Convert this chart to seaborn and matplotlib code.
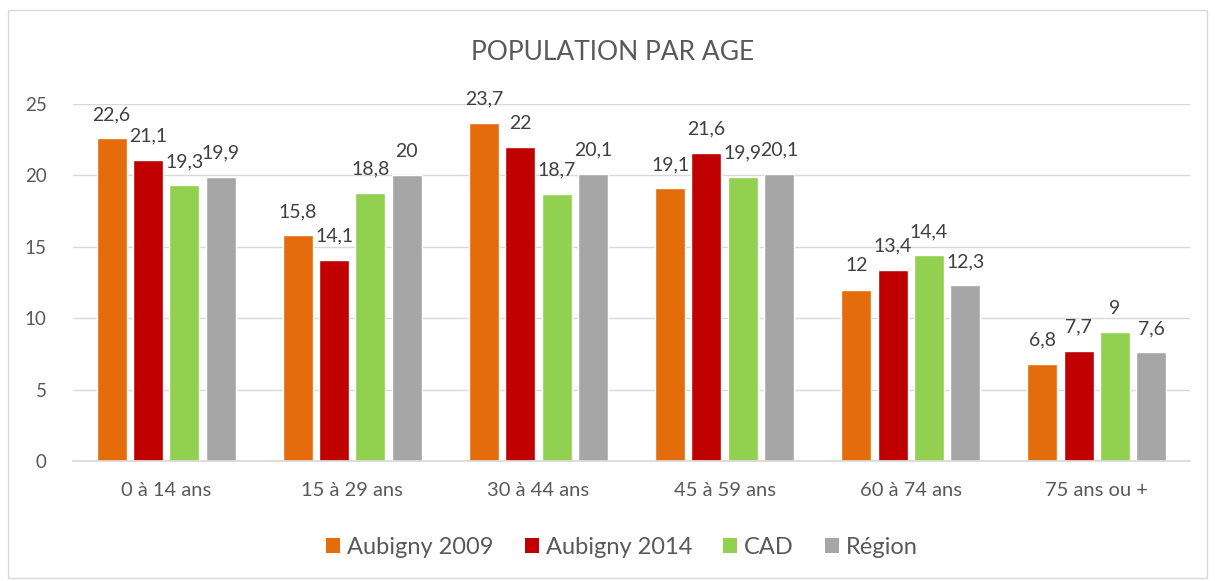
import matplotlib
matplotlib.use("Agg")
import matplotlib.pyplot as plt
import seaborn as sns
import pandas as pd
from matplotlib.patches import Rectangle, Patch

categories = ["0 à 14 ans", "15 à 29 ans", "30 à 44 ans", "45 à 59 ans", "60 à 74 ans", "75 ans ou +"]
series_names = ["Aubigny 2009", "Aubigny 2014", "CAD", "Région"]
aubigny_2009 = [22.6, 15.8, 23.7, 19.1, 12.0, 6.8]
aubigny_2014 = [21.1, 14.1, 22.0, 21.6, 13.4, 7.7]
cad = [19.3, 18.8, 18.7, 19.9, 14.4, 9.0]
region = [19.9, 20.0, 20.1, 20.1, 12.3, 7.6]
colors = ["#E46C0A", "#C00000", "#92D050", "#A6A6A6"]
yticks = [0, 5, 10, 15, 20, 25]

rows = []
for name, vals in zip(series_names, [aubigny_2009, aubigny_2014, cad, region]):
    for c, v in zip(categories, vals):
        rows.append({"cat": c, "serie": name, "val": v})
df = pd.DataFrame(rows)

sns.set_theme(style="white")
plt.rcParams["font.family"] = ["Lato", "DejaVu Sans"]

fig = plt.figure(figsize=(12.15, 5.81), dpi=100)
ax = fig.add_axes([73/1215, 1-461/581, (1190-73)/1215, (461-104)/581])

sns.barplot(data=df, x="cat", y="val", hue="serie", order=categories,
            hue_order=series_names, palette=colors, width=0.78, gap=0.175,
            saturation=1, ax=ax, legend=False, errorbar=None)

ax.set_ylim(0, 25)
ax.set_yticks(yticks)
ax.set_yticklabels([str(t) for t in yticks], fontsize=13.5, color="#595959")
ax.tick_params(axis="x", labelsize=14.5, colors="#595959", length=0, pad=15)
ax.tick_params(axis="y", length=0, pad=19)
ax.set_xlabel("")
ax.set_ylabel("")
ax.grid(axis="y", color="#D9D9D9", linewidth=1)
ax.set_axisbelow(True)
for s in ["top", "right", "left"]:
    ax.spines[s].set_visible(False)
ax.spines["bottom"].set_color("#D9D9D9")

for cont in ax.containers:
    labels = [("%g" % b.get_height()).replace(".", ",") for b in cont]
    ax.bar_label(cont, labels=labels, padding=11, fontsize=14, color="#404040", clip_on=False)

fig.text(613/1215, 1-53/581, "POPULATION PAR AGE", ha="center", va="center", fontsize=19, color="#595959")

handles = [Patch(facecolor=c, edgecolor="none") for c in colors]
fig.legend(handles, series_names, loc="center", bbox_to_anchor=(622/1215, 1-547/581), ncol=4,
           frameon=False, fontsize=17, handlelength=0.6, handleheight=0.6,
           columnspacing=1.3, handletextpad=0.3, labelcolor="#595959")

fig.patches.append(Rectangle((8/1215, 1-578/581), 1199/1215, 568/581, transform=fig.transFigure,
                             fill=False, edgecolor="#D9D9D9", linewidth=1))

fig.savefig("out.png", dpi=100)
